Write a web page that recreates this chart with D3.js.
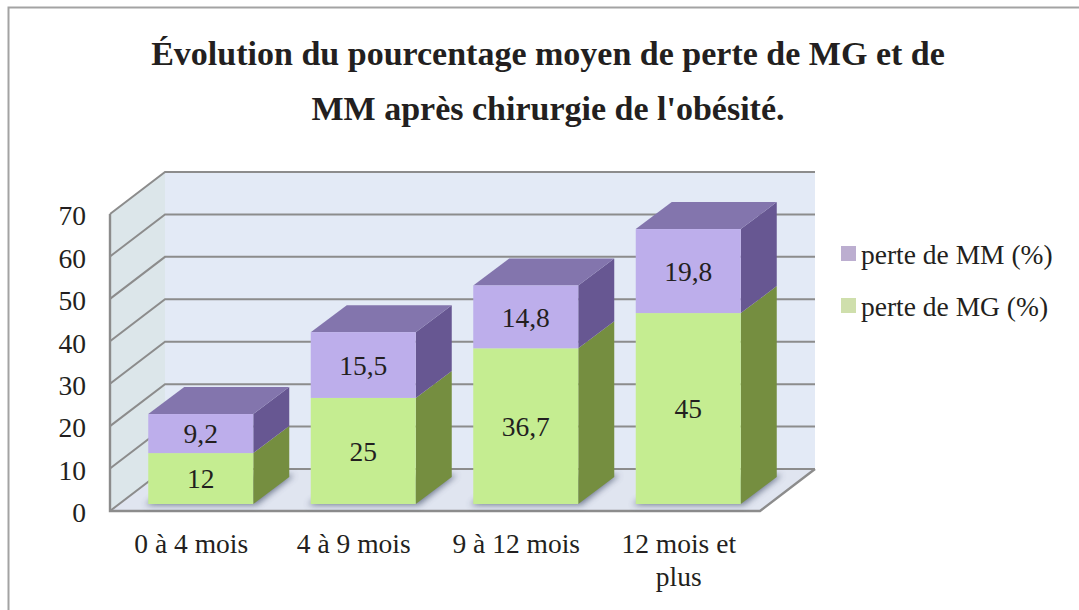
<!DOCTYPE html>
<html><head><meta charset="utf-8">
<script src="https://cdn.jsdelivr.net/npm/d3@7/dist/d3.min.js"></script>
<style>html,body{margin:0;padding:0;background:#fff}svg{display:block}
text{font-family:"Liberation Serif",serif;fill:#231f20}</style></head>
<body><svg id="c" width="1079" height="610"></svg>
<script>
const categories=["0 à 4 mois","4 à 9 mois","9 à 12 mois","12 mois et|plus"];
const perteMG=[12,25,36.7,45];
const perteMM=[9.2,15.5,14.8,19.8];
const labelsMG=["12","25","36,7","45"];
const labelsMM=["9,2","15,5","14,8","19,8"];
const yTicks=[0,10,20,30,40,50,60,70];
const titleLines=["Évolution du pourcentage moyen de perte de MG et de","MM après chirurgie de l'obésité."];
const legendNames=["perte de MM (%)","perte de MG (%)"];

const svg=d3.select("#c");
const x0=110,x1=760,yB=511,yT=214,dx=55,dy=-42,fs=27.5;
const y=d3.scaleLinear().domain([0,70]).range([yB,yT]);
const x=d3.scaleBand().domain(categories).range([x0,x1]);
const barW=105,barDx=36,barDy=-27,baseDx=9.5,baseDy=-7;
const poly=p=>p.map(d=>d.join(",")).join(" ");
const grid="#8c8c8c";

svg.append("defs").append("filter").attr("id","b").attr("x","-30%").attr("y","-60%").attr("width","160%").attr("height","220%")
  .append("feGaussianBlur").attr("stdDeviation",3);

svg.append("path").attr("d","M8.5,610V7.5H1079").attr("fill","none").attr("stroke","#a3a3a3").attr("stroke-width",2);

svg.selectAll(".title").data(titleLines).join("text").attr("class","title")
  .attr("x",548).attr("y",(d,i)=>65+i*55).attr("text-anchor","middle")
  .attr("font-size",34).attr("font-weight","bold").text(d=>d);

// walls
svg.append("polygon").attr("points",poly([[x0+dx,yB+dy],[x1+dx,yB+dy],[x1+dx,yT+dy],[x0+dx,yT+dy]])).attr("fill","#e3eaf6");
svg.append("polygon").attr("points",poly([[x0,yB],[x0+dx,yB+dy],[x0+dx,yT+dy],[x0,yT]])).attr("fill","#dce6ea");
svg.append("polygon").attr("points",poly([[x0,yB],[x1,yB],[x1+dx,yB+dy],[x0+dx,yB+dy]])).attr("fill","#e0e5f0");

// gridlines
svg.selectAll(".g").data(yTicks).join("polyline").attr("class","g")
  .attr("points",d=>poly([[x0,y(d)],[x0+dx,y(d)+dy],[x1+dx,y(d)+dy]]))
  .attr("fill","none").attr("stroke",grid).attr("stroke-width",2);
svg.append("path").attr("d",`M${x0},${yT}V${yB}H${x1}L${x1+dx},${yB+dy}`).attr("fill","none").attr("stroke",grid).attr("stroke-width",2.4);

// bars
const bars=categories.map((c,i)=>({c,i,l:x(c)+x.bandwidth()/2+baseDx-barW/2}));
const h=v=>y(0)-y(v);
const base=yB+baseDy;
svg.selectAll(".sh").data(bars).join("polygon").attr("class","sh")
  .attr("points",d=>poly([[d.l-3,base+1],[d.l+barW+3,base+1],[d.l+barW+barDx+5,base+barDy-2],[d.l+barDx,base+barDy-2]]))
  .attr("fill","#4c5670").attr("opacity",.75).attr("filter","url(#b)");

const g=svg.selectAll(".bar").data(bars).join("g").attr("class","bar");
g.append("polygon").attr("points",d=>{const a=base,b=base-h(perteMG[d.i]);
  return poly([[d.l+barW,a],[d.l+barW+barDx,a+barDy],[d.l+barW+barDx,b+barDy],[d.l+barW,b]]);}).attr("fill","#758e40");
g.append("polygon").attr("points",d=>{const a=base-h(perteMG[d.i]),b=a-h(perteMM[d.i]);
  return poly([[d.l+barW,a],[d.l+barW+barDx,a+barDy],[d.l+barW+barDx,b+barDy],[d.l+barW,b]]);}).attr("fill","#675792");
g.append("polygon").attr("points",d=>{const b=base-h(perteMG[d.i]+perteMM[d.i]);
  return poly([[d.l,b],[d.l+barW,b],[d.l+barW+barDx,b+barDy],[d.l+barDx,b+barDy]]);}).attr("fill","#8375ad");
g.append("rect").attr("x",d=>d.l).attr("width",barW).attr("y",d=>base-h(perteMG[d.i])).attr("height",d=>h(perteMG[d.i])).attr("fill","#c5ed91");
g.append("rect").attr("x",d=>d.l).attr("width",barW).attr("y",d=>base-h(perteMG[d.i]+perteMM[d.i])).attr("height",d=>h(perteMM[d.i])).attr("fill","#bdaeeb");
g.append("text").attr("x",d=>d.l+barW/2).attr("y",d=>base-h(perteMG[d.i])/2).attr("dy",".35em").attr("text-anchor","middle").attr("font-size",fs).text(d=>labelsMG[d.i]);
g.append("text").attr("x",d=>d.l+barW/2).attr("y",d=>base-h(perteMG[d.i])-h(perteMM[d.i])/2).attr("dy",".35em").attr("text-anchor","middle").attr("font-size",fs).text(d=>labelsMM[d.i]);

// axes
const ay=svg.append("g").attr("transform","translate(86,0)").call(d3.axisLeft(y).tickValues(yTicks).tickSize(0).tickPadding(0));
ay.select(".domain").remove();
ay.selectAll("text").attr("font-size",fs).style("font-family",'"Liberation Serif",serif').attr("dy",".39em").attr("fill","#231f20");
const ax=svg.append("g").attr("transform","translate(0,553)").call(d3.axisBottom(x).tickSize(0).tickPadding(0));
ax.select(".domain").remove();
ax.selectAll("text").attr("font-size",fs).style("font-family",'"Liberation Serif",serif').attr("fill","#231f20").attr("y",0).attr("dy",0)
 .each(function(d){const t=d3.select(this);const parts=d.split("|");t.text(null);
   parts.forEach((p,i)=>t.append("tspan").attr("x",0).attr("y",i*33).text(p));});

// legend
const lc=["#bcaed0","#cfdfac"];
const lg=svg.selectAll(".lg").data(legendNames).join("g").attr("class","lg").attr("transform",(d,i)=>`translate(841,${246+i*52})`);
lg.append("rect").attr("width",15).attr("height",15).attr("fill",(d,i)=>lc[i]);
lg.append("text").attr("x",20).attr("y",18).attr("font-size",fs).text(d=>d);
</script></body></html>
